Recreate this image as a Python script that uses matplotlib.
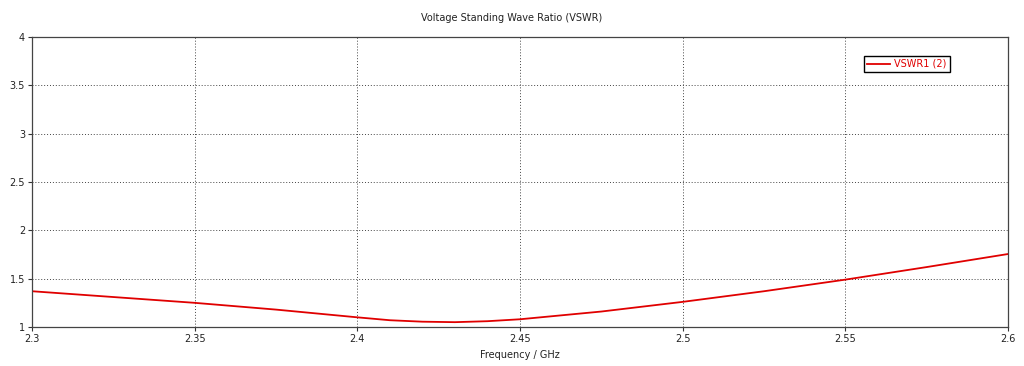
import matplotlib
matplotlib.use("Agg")
import matplotlib.pyplot as plt

# VSWR sweep
freq_ghz = [2.30, 2.325, 2.35, 2.375, 2.40, 2.41, 2.42, 2.43, 2.44, 2.45,
            2.475, 2.50, 2.525, 2.55, 2.575, 2.60]
vswr = [1.37, 1.31, 1.25, 1.18, 1.10, 1.07, 1.055, 1.05, 1.06, 1.08,
        1.16, 1.26, 1.37, 1.49, 1.62, 1.755]
x_ticks = [2.3, 2.35, 2.4, 2.45, 2.5, 2.55, 2.6]
x_labels = ["2.3", "2.35", "2.4", "2.45", "2.5", "2.55", "2.6"]
y_ticks = [1, 1.5, 2, 2.5, 3, 3.5, 4]
y_labels = ["1", "1.5", "2", "2.5", "3", "3.5", "4"]

plt.rcParams["font.family"] = ["DejaVu Sans"]

fig = plt.figure(figsize=(10.24, 3.66), dpi=100)
ax = fig.add_axes([32 / 1024, 1 - 327 / 366, 976 / 1024, 290 / 366])

ax.plot(freq_ghz, vswr, color="#e00000", linewidth=1.3, label="VSWR1 (2)")

ax.set_xlim(2.3, 2.6)
ax.set_ylim(1, 4)
ax.set_xticks(x_ticks, x_labels)
ax.set_yticks(y_ticks, y_labels)
ax.tick_params(labelsize=7, length=3, width=0.8, color="#333333",
               labelcolor="#222222", pad=2)
ax.grid(True, color="#444444", linestyle=(0, (1, 2)), linewidth=0.7)
for s in ax.spines.values():
    s.set_color("#444444")
    s.set_linewidth(0.9)

ax.set_xlabel("Frequency / GHz", fontsize=7, labelpad=4, color="#222222")
fig.text(0.5, 1 - 18 / 366, "Voltage Standing Wave Ratio (VSWR)", ha="center",
         va="center", fontsize=7, color="#222222")

leg = ax.legend(loc="center", bbox_to_anchor=(907 / 1024, 1 - 64 / 366),
                bbox_transform=fig.transFigure, fontsize=7, fancybox=False,
                framealpha=1, edgecolor="black", handlelength=2.3,
                borderpad=0.35, handletextpad=0.5)
leg.get_frame().set_linewidth(1.0)
for t in leg.get_texts():
    t.set_color("#e00000")

fig.savefig("out.png", dpi=100)
